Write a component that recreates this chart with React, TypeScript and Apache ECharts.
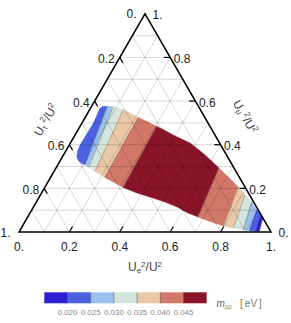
import React, { useEffect, useRef } from "react";
import * as echarts from "echarts";

// ternary points as [U_e^2/U^2, U_mu^2/U^2]  (U_tau^2/U^2 = 1 - e - mu)
const upperEdge: [number, number][] = [
  [0.058, 0.344], [0.047, 0.371], [0.043, 0.399], [0.044, 0.437], [0.046, 0.498],
  [0.041, 0.541], [0.038, 0.566], [0.044, 0.575], [0.063, 0.576], [0.087, 0.574],
  [0.113, 0.568], [0.134, 0.56], [0.168, 0.545], [0.211, 0.525], [0.255, 0.506],
  [0.305, 0.484], [0.347, 0.465], [0.399, 0.44], [0.475, 0.408], [0.562, 0.353],
  [0.647, 0.293], [0.708, 0.25], [0.767, 0.206], [0.812, 0.17], [0.854, 0.139],
  [0.893, 0.101], [0.921, 0.078], [0.936, 0.062],
];
const lowerEdge: [number, number][] = [
  [0.058, 0.344], [0.072, 0.328], [0.088, 0.316], [0.108, 0.308], [0.129, 0.297],
  [0.163, 0.278], [0.19, 0.264], [0.216, 0.25], [0.26, 0.229], [0.312, 0.204],
  [0.378, 0.179], [0.44, 0.16], [0.511, 0.137], [0.568, 0.116], [0.622, 0.089],
  [0.676, 0.069], [0.734, 0.048], [0.797, 0.028], [0.842, 0.018], [0.885, 0.01],
  [0.912, 0.006], [0.938, 0.004], [0.952, 0.003],
];
const upperCuts = [0, 8, 9, 11, 13, 15, 20, 22, 23, 24, 25, 26, 27];
const lowerCuts = [0, 3, 4, 5, 7, 9, 15, 17, 18, 19, 20, 21, 22];
const bandLevels = [1, 2, 3, 4, 5, 6, 5, 4, 3, 2, 1, 0];
const levelColors = ["#2b1fcf", "#4b61e1", "#9cc0ee", "#d4e5db", "#eac8a5", "#d27868", "#8a1529"];
const levelBounds = ["0.020", "0.025", "0.030", "0.035", "0.040", "0.045"];
const gridVals = [0.1, 0.2, 0.3, 0.4, 0.5, 0.6, 0.7, 0.8, 0.9];
const tickVals = [0, 0.2, 0.4, 0.6, 0.8, 1];
const tickLabels = ["0.", "0.2", "0.4", "0.6", "0.8", "1."];
const vertices: [number, number][] = [[0, 0], [1, 0], [0, 1]];

const S3 = Math.sqrt(3) / 2;
const FONT = '"Liberation Sans", Arial, Helvetica, sans-serif';
const toXY = (p: [number, number]) => [p[0] + p[1] / 2, p[1] * S3];

export default function App() {
  const ref = useRef<HTMLDivElement>(null);
  useEffect(() => {
    document.body.style.margin = "0";
    const chart = echarts.init(ref.current!, null, { renderer: "svg" });
    const L = 0.025;

    const gridData: number[][] = [];
    [0, 1, 2].forEach((f) => gridVals.forEach((v) => gridData.push([f, v])));
    const tickData: number[][] = [];
    [0, 1, 2].forEach((f) =>
      tickVals.forEach((v) => {
        if (v > 0 && v < 1) tickData.push([f, v]);
      })
    );
    const labelData: number[][] = [];
    [0, 1, 2].forEach((f) => tickVals.forEach((v, i) => labelData.push([f, v, i])));

    const lineEnds = (f: number, v: number): [number, number][] => {
      if (f === 0) return [[v, 0], [v, 1 - v]];
      if (f === 1) return [[0, v], [1 - v, v]];
      return [[1 - v, 0], [0, 1 - v]];
    };
    const tickEnds = (f: number, v: number): [number, number][] => {
      if (f === 0) return [[v, 0], [v, L]];
      if (f === 1) return [[1 - v, v], [1 - v - L, v]];
      return [[0, 1 - v], [L, 1 - v - L]];
    };

    const titleRich = (c: string) => ({
      u: { fontSize: 12, fontFamily: FONT, fill: c, lineHeight: 14, verticalAlign: "middle" },
      sb: { fontSize: 8, fontFamily: FONT, fill: c, lineHeight: 14, verticalAlign: "bottom" },
      sp: { fontSize: 8, fontFamily: FONT, fill: c, lineHeight: 14, verticalAlign: "top" },
    });

    const cbLeft = 44.3;
    const cbW = 23.2;
    const cbTop = 292.3;
    const cbH = 11;
    const graphics: any[] = [];
    levelColors.forEach((c, i) => {
      graphics.push({
        type: "rect",
        shape: { x: cbLeft + i * cbW, y: cbTop, width: cbW, height: cbH },
        style: { fill: c },
        silent: true,
      });
    });
    levelBounds.forEach((t, i) => {
      const x = cbLeft + (i + 1) * cbW;
      graphics.push({
        type: "line",
        shape: { x1: x, y1: cbTop, x2: x, y2: cbTop + cbH },
        style: { stroke: "rgba(60,60,60,0.6)", lineWidth: 0.8 },
        silent: true,
      });
      graphics.push({
        type: "text",
        x,
        y: 312.7,
        style: {
          text: t, fill: "#8a8a8a", font: `8px ${FONT}`,
          align: "center", verticalAlign: "middle", textAlign: "center", textVerticalAlign: "middle",
        },
        silent: true,
      });
    });
    graphics.push({
      type: "text",
      x: 216.5,
      y: 303.5,
      style: {
        text: "{m|m}{s|ββ}{e|   [\u2009eV\u2009]}",
        align: "left", verticalAlign: "middle", textAlign: "left", textVerticalAlign: "middle",
        rich: {
          m: { fontSize: 10, fontStyle: "italic", fontFamily: FONT, fill: "#666", lineHeight: 12, verticalAlign: "middle" },
          s: { fontSize: 6, fontFamily: FONT, fill: "#777", lineHeight: 12, verticalAlign: "bottom" },
          e: { fontSize: 10, fontFamily: FONT, fill: "#777", lineHeight: 12, verticalAlign: "middle" },
        },
      },
      silent: true,
    });
    graphics.push({
      type: "text", x: 145, y: 267,
      style: {
        text: "{u|U}{sb|e}{sp|2}{u|/U}{sp|2}", align: "center", verticalAlign: "middle",
        textAlign: "center", textVerticalAlign: "middle", rich: titleRich("#444"),
      },
      silent: true,
    });
    graphics.push({
      type: "text", x: 45.8, y: 120, rotation: Math.PI / 3,
      style: {
        text: "{u|U}{sb|τ}{sp| 2}{u|/U}{sp|2}", align: "center", verticalAlign: "middle",
        textAlign: "center", textVerticalAlign: "middle", rich: titleRich("#444"),
      },
      silent: true,
    });
    graphics.push({
      type: "text", x: 245, y: 116.7, rotation: -Math.PI / 3,
      style: {
        text: "{u|U}{sb|μ}{sp| 2}{u|/U}{sp|2}", align: "center", verticalAlign: "middle",
        textAlign: "center", textVerticalAlign: "middle", rich: titleRich("#444"),
      },
      silent: true,
    });

    chart.setOption({
      animation: false,
      grid: { left: 19, right: 20, top: 13.8, bottom: 91 },
      xAxis: { type: "value", min: 0, max: 1, show: false },
      yAxis: { type: "value", min: 0, max: S3, show: false },
      graphic: graphics,
      series: [
        {
          type: "custom",
          coordinateSystem: "cartesian2d",
          silent: true,
          z: 1,
          data: bandLevels.map((lv) => [0.5, 0.3, lv]),
          renderItem: (params: any, api: any) => {
            const i = params.dataIndex;
            const up = upperEdge.slice(upperCuts[i], upperCuts[i + 1] + 1);
            const lo = lowerEdge.slice(lowerCuts[i], lowerCuts[i + 1] + 1).reverse();
            const pts = [...up, ...lo].map((p) => api.coord(toXY(p)));
            const c = levelColors[bandLevels[i]];
            return { type: "polygon", shape: { points: pts }, style: { fill: c, stroke: c, lineWidth: 0.5 } };
          },
        },
        {
          type: "custom",
          coordinateSystem: "cartesian2d",
          silent: true,
          z: 2,
          data: upperCuts.slice(1, -1).map((u, k) => [0.5, 0.3, k + 1]),
          renderItem: (params: any, api: any) => {
            const k = params.dataIndex + 1;
            const a = api.coord(toXY(upperEdge[upperCuts[k]]));
            const b = api.coord(toXY(lowerEdge[lowerCuts[k]]));
            return {
              type: "line",
              shape: { x1: a[0], y1: a[1], x2: b[0], y2: b[1] },
              style: { stroke: "rgba(50,50,50,0.45)", lineWidth: 0.7 },
            };
          },
        },
        {
          type: "custom",
          coordinateSystem: "cartesian2d",
          silent: true,
          z: 3,
          data: gridData.map((d) => [0.5, 0.3, d[0], d[1]]),
          renderItem: (params: any, api: any) => {
            const d = gridData[params.dataIndex];
            const [p, q] = lineEnds(d[0], d[1]);
            const a = api.coord(toXY(p));
            const b = api.coord(toXY(q));
            return {
              type: "line",
              shape: { x1: a[0], y1: a[1], x2: b[0], y2: b[1] },
              style: { stroke: "rgba(0,0,0,0.2)", lineWidth: 0.8 },
            };
          },
        },
        {
          type: "custom",
          coordinateSystem: "cartesian2d",
          silent: true,
          z: 4,
          data: tickData.map((d) => [0.5, 0.3, d[0], d[1]]),
          renderItem: (params: any, api: any) => {
            const d = tickData[params.dataIndex];
            const [p, q] = tickEnds(d[0], d[1]);
            const a = api.coord(toXY(p));
            const b = api.coord(toXY(q));
            return {
              type: "line",
              shape: { x1: a[0], y1: a[1], x2: b[0], y2: b[1] },
              style: { stroke: "#000", lineWidth: 1.2 },
            };
          },
        },
        {
          type: "custom",
          coordinateSystem: "cartesian2d",
          silent: true,
          z: 5,
          data: [[0.5, 0.3]],
          renderItem: (params: any, api: any) => {
            const pts = vertices.map((p) => api.coord(toXY(p)));
            return {
              type: "polygon",
              shape: { points: pts },
              style: { fill: "none", stroke: "#000", lineWidth: 1.5, lineJoin: "miter" },
            };
          },
        },
        {
          type: "custom",
          coordinateSystem: "cartesian2d",
          silent: true,
          z: 6,
          data: labelData.map((d) => [0.5, 0.3, d[0], d[1]]),
          renderItem: (params: any, api: any) => {
            const [f, v, i] = labelData[params.dataIndex];
            const end = v === 0 || v === 1;
            let pt: [number, number];
            let dx = 0;
            let dy = 0;
            let align = "center";
            if (f === 0) {
              pt = [v, 0];
              dy = 15;
            } else if (f === 1) {
              pt = [0, 1 - v];
              dx = end ? -8.5 : -5;
              dy = end ? 0.5 : 1.5;
              align = "right";
            } else {
              pt = [1 - v, v];
              dx = end ? 7.5 : 3.5;
              dy = end ? 0.8 : 1.5;
              align = "left";
            }
            const c = api.coord(toXY(pt));
            return {
              type: "text",
              x: c[0] + dx,
              y: c[1] + dy,
              style: {
                text: tickLabels[i], fill: "#222", font: `12px ${FONT}`,
                align, verticalAlign: "middle", textAlign: align, textVerticalAlign: "middle",
              },
            };
          },
        },
      ],
    });
    return () => chart.dispose();
  }, []);
  return <div ref={ref} style={{ width: 291, height: 323 }} />;
}
